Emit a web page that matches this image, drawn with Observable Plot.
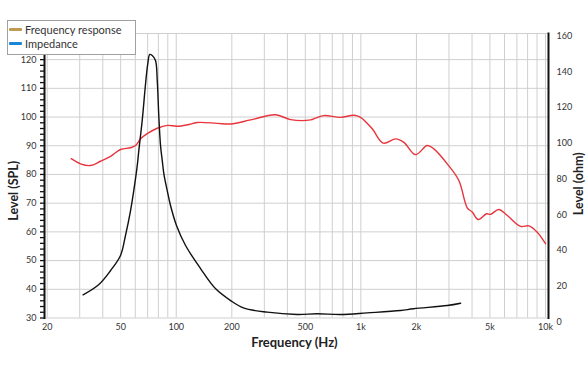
<!DOCTYPE html>
<html><head><meta charset="utf-8">
<script src="https://cdn.jsdelivr.net/npm/d3@7"></script>
<script src="https://cdn.jsdelivr.net/npm/@observablehq/plot@0.6"></script>
<style>
body{margin:0;background:#fff;font-family:Lato,"Open Sans",sans-serif;}
#wrap{position:relative;width:588px;height:372px;}
#legend{position:absolute;left:7px;top:20px;width:127px;height:33px;border:1px solid #a0a0a0;background:#fff;font-size:11px;color:#333;}
.item{position:absolute;left:1px;height:14px;display:flex;align-items:center;}
.sw{width:13px;height:3px;margin-right:3px;border-radius:1px;}
</style></head><body>
<div id="wrap"><div id="legend"></div></div>
<script>
// Frequency response (red curve)
const respFreq = [27.0, 30.3, 34.3, 38.9, 44.1, 49.9, 56.5, 60.2, 64.1, 69.6, 78.9, 89.3, 101, 115, 130, 167, 197, 253, 345, 416, 534, 568, 630, 776, 916, 996, 1152, 1322, 1542, 1710, 1978, 2288, 2484, 2936, 3394, 3768, 4012, 4324, 4798, 5038, 5586, 6208, 7328, 8128, 9020, 10000];
const respSpl = [85.5, 83.7, 83.1, 84.6, 86.3, 88.7, 89.3, 90.1, 92.4, 94.2, 96.1, 97.1, 96.8, 97.3, 98.1, 97.8, 97.6, 99.0, 100.8, 99.1, 99.0, 99.6, 100.5, 99.9, 100.6, 99.9, 95.9, 90.9, 92.4, 91.2, 86.9, 90.1, 88.9, 83.7, 77.9, 68.4, 66.9, 64.3, 66.3, 66.1, 67.8, 65.7, 61.9, 62.1, 59.9, 55.9];
// Impedance (black curve)
const impFreq = [31.3, 38.1, 44.1, 49.9, 53.1, 56.5, 58.9, 61.5, 62.7, 65.4, 68.2, 70.1, 71.9, 74.1, 77.2, 78.9, 80.5, 82.2, 84.0, 85.7, 89.3, 93.1, 100.3, 112.3, 135.4, 163, 197, 231, 311, 452, 580, 776, 1083, 1640, 1929, 2936, 3468];
const impOhm = [15.2, 21.0, 28.8, 37.2, 48.4, 62.0, 73.6, 87.6, 95.9, 112.7, 133.3, 144.4, 149.7, 149.1, 146.3, 135.1, 114.6, 98.7, 90.3, 82.9, 73.6, 65.2, 54.0, 42.8, 29.9, 18.7, 12.0, 7.9, 5.5, 4.2, 4.6, 4.2, 5.1, 6.4, 7.4, 9.2, 10.5];

const xTickVals = [20, 50, 100, 200, 500, 1000, 2000, 5000, 10000];
const xTickLabels = ["20", "50", "100", "200", "500", "1k", "2k", "5k", "10k"];
const gridFreqs = [20,30,40,50,60,70,80,90,100,200,300,400,500,600,700,800,900,1000,2000,3000,4000,5000,6000,7000,8000,9000,10000];
const splMajor = [30,40,50,60,70,80,90,100,110,120];
const splMinor = d3.range(30, 123, 2);
const ohmTicks = [0,20,40,60,80,100,120,140,160];
const legendNames = ["Frequency response", "Impedance"];
const legendColors = ["#c09a55", "#1a86d6"];

// impedance (ohm) expressed in the left-axis (SPL) units
const toSpl = o => 28.607 + 0.6226 * o;

const resp = respFreq.map((f, i) => ({f, v: respSpl[i]}));
const imp = impFreq.map((f, i) => ({f, o: impOhm[i]}));

const chart = Plot.plot({
  width: 588, height: 372,
  marginLeft: 44, marginRight: 40, marginTop: 33, marginBottom: 54.5,
  x: {type: "log", domain: [20, 10000], range: [46.7, 545], axis: null},
  y: {domain: [30, 129.1], axis: null},
  style: {fontFamily: "Lato, 'Open Sans', sans-serif", fontSize: "9px", color: "#333", background: "#fff"},
  marks: [
    Plot.ruleX(gridFreqs, {stroke: "#cfcfcf", strokeWidth: 1}),
    Plot.ruleY(splMajor, {stroke: "#cfcfcf", strokeWidth: 1}),
    Plot.frame({anchor: "top", stroke: "#cfcfcf"}),
    Plot.line(resp, {x: "f", y: "v", stroke: "#e8343c", strokeWidth: 1.4, curve: "catmull-rom"}),
    Plot.line(imp, {x: "f", y: d => toSpl(d.o), stroke: "#111", strokeWidth: 1.4, curve: "catmull-rom"}),
    Plot.frame({anchor: "left", stroke: "#111", strokeWidth: 2}),
    Plot.frame({anchor: "right", stroke: "#111", strokeWidth: 2}),
    Plot.axisY(splMinor, {anchor: "left", tickSize: 4, tickFormat: () => "", stroke: "#111", strokeWidth: 1.3, label: null}),
    Plot.axisY(splMajor, {anchor: "left", tickSize: 0, tickPadding: 8, fontSize: 9, fill: "#333", label: null}),
    Plot.text(xTickVals, {x: d => d, frameAnchor: "bottom", text: (d, i) => xTickLabels[i], dy: 9.5, lineAnchor: "middle", textAnchor: "middle", fontSize: 9, fill: "#333"}),
    Plot.text(ohmTicks, {frameAnchor: "right", y: d => toSpl(d), text: d => String(d), textAnchor: "start", dx: 8, fontSize: 9, fill: "#333"}),
    Plot.text(["Level (SPL)"], {frameAnchor: "left", dx: -31, dy: 15, rotate: -90, textAnchor: "middle", lineAnchor: "middle", fontSize: 12.5, fontWeight: "bold", fill: "#222"}),
    Plot.text(["Level (ohm)"], {frameAnchor: "right", dx: 30, dy: 8, rotate: -90, textAnchor: "middle", lineAnchor: "middle", fontSize: 12.5, fontWeight: "bold", fill: "#222"}),
    Plot.text(["Frequency (Hz)"], {frameAnchor: "bottom", dx: -2, dy: 25, lineAnchor: "middle", textAnchor: "middle", fontSize: 13, fontWeight: "bold", fill: "#222"})
  ]
});
const wrap = document.getElementById("wrap");
wrap.insertBefore(chart, wrap.firstChild);

const legend = document.getElementById("legend");
legendNames.forEach((name, i) => {
  const item = document.createElement("div");
  item.className = "item";
  item.style.top = (1.3 + 14 * i) + "px";
  const sw = document.createElement("span");
  sw.className = "sw";
  sw.style.background = legendColors[i];
  const t = document.createElement("span");
  t.textContent = name;
  item.appendChild(sw); item.appendChild(t);
  legend.appendChild(item);
});
</script>
</body></html>
